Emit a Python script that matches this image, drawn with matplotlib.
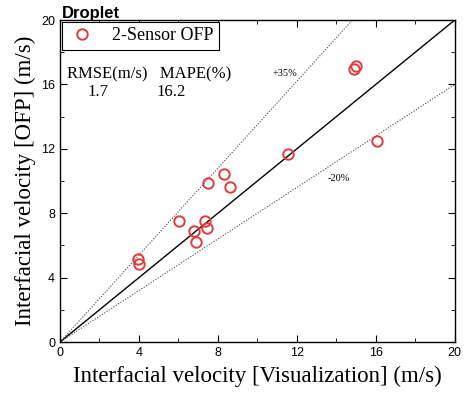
import matplotlib.pyplot as plt
import numpy as np

# data
vis = [3.97, 4.0, 6.04, 6.78, 6.89, 7.36, 7.43, 7.49, 8.29, 8.59, 11.56, 16.08, 14.9, 14.99]
ofp = [5.15, 4.86, 7.5, 6.87, 6.23, 7.54, 7.1, 9.9, 10.42, 9.61, 11.66, 12.48, 16.94, 17.14]
lim = [0, 20]
ticks = [0, 4, 8, 12, 16, 20]
rmse = 1.7
mape = 16.2

fig = plt.figure(figsize=(4.65, 3.97), dpi=100)
ax = fig.add_axes([0.129, 0.1385, 0.849, 0.8111])

xx = np.array(lim)
ax.plot(xx, xx, color='black', lw=1.0)
ax.plot(xx, 1.35 * xx, color='#444444', lw=0.8, ls=(0, (1, 1.5)))
ax.plot(xx, 0.8 * xx, color='#444444', lw=0.8, ls=(0, (1, 1.5)))

ax.plot(vis, ofp, ls='none', marker='o', markersize=7.5, markerfacecolor='none',
        markeredgecolor='#e23b3b', markeredgewidth=1.4, label='2-Sensor OFP')

ax.set_xlim(lim)
ax.set_ylim(lim)
ax.set_xticks(ticks)
ax.set_yticks(ticks)
ax.set_xticks(np.arange(2, 20, 4), minor=True)
ax.set_yticks(np.arange(2, 20, 4), minor=True)
ax.tick_params(which='both', direction='in', top=True, right=True, labelsize=9)
ax.tick_params(which='major', length=5)
ax.tick_params(which='minor', length=3)
for lab in ax.get_xticklabels() + ax.get_yticklabels():
    lab.set_fontfamily('Liberation Sans')
for s in ax.spines.values():
    s.set_linewidth(1.0)

ax.set_xlabel('Interfacial velocity [Visualization] (m/s)', family='Liberation Serif', fontsize=16.5, labelpad=5)
ax.set_ylabel('Interfacial velocity [OFP] (m/s)', family='Liberation Serif', fontsize=16.5, labelpad=4)

leg = ax.legend(loc='upper left', prop={'family': 'Liberation Serif', 'size': 13}, fancybox=False,
                edgecolor='black', framealpha=1, borderaxespad=0.1, handletextpad=0.9,
                borderpad=0.3, handlelength=1.6)
leg.get_frame().set_linewidth(0.8)

ax.text(0.018, 0.82, 'RMSE(m/s)   MAPE(%)', transform=ax.transAxes, family='Liberation Serif', fontsize=12)
ax.text(0.07, 0.765, '%.1f' % rmse, transform=ax.transAxes, family='Liberation Serif', fontsize=12)
ax.text(0.245, 0.765, '%.1f' % mape, transform=ax.transAxes, family='Liberation Serif', fontsize=12)
ax.text(11.4, 16.5, '+35%', family='Liberation Serif', fontsize=7.5, ha='center')
ax.text(14.1, 10.0, '-20%', family='Liberation Serif', fontsize=7.5, ha='center')

fig.text(0.133, 0.967, 'Droplet', family='Liberation Sans', fontweight='bold', fontsize=12, va='center')

fig.savefig('out.png', dpi=100)
